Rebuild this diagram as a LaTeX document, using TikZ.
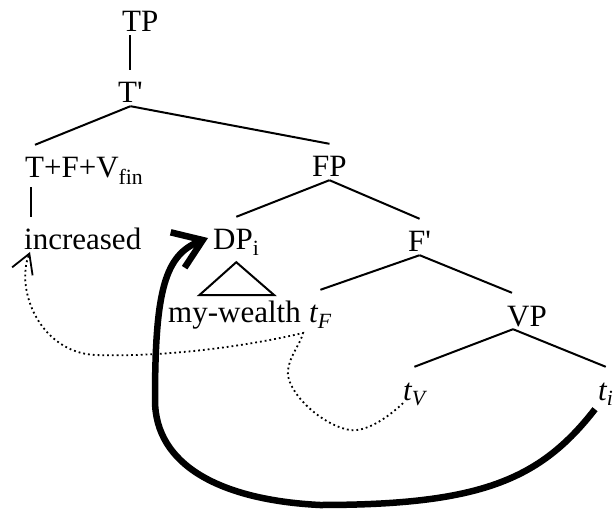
\documentclass[tikz,border=0pt]{standalone}
\usepackage{fontspec}
\setmainfont{Liberation Serif}
\usetikzlibrary{arrows.meta,calc}

\begin{document}
\begin{tikzpicture}[x=1pt,y=-1pt,
  word/.style={inner sep=0pt,anchor=base west,text height=33pt,text depth=3pt,font=\fontsize{31}{37}\selectfont},
  branch/.style={line width=2pt},
  headmove/.style={line width=1.8pt,dash pattern=on 1.8pt off 3pt,-{Straight Barb[length=19pt,width=22pt]}},
  dpmove/.style={line width=6.5pt,-{Straight Barb[length=27pt,width=38pt]}}]
\useasboundingbox (0,0) rectangle (615,510);

%labels
\node[word] (TP) at (122,32) {TP};
\node[word] (Tbar) at (118,103) {T\textquotesingle};
\node[word,text depth=9pt] (TFV) at (25,178) {T+F+V\textsubscript{fin}};
\node[word] (FP) at (312,177) {FP};
\node[word] (inc) at (24,250) {increased};
\node[word] (DP) at (213,250) {DP\textsubscript{i}};
\node[word] (Fbar) at (408,252) {F\textquotesingle};
\node[word] (my) at (168,323) {my-wealth};
\node[word] (tF) at ([xshift=8pt]my.base east) {\textit{t\textsubscript{F}}};
\node[word] (VP) at (507,326) {VP};
\node[word] (tV) at (403,400) {\textit{t\textsubscript{V}}};
\node[word] (ti) at (598,400) {\textit{t\textsubscript{i}}};

%branches
\draw[branch] (Tbar.north) -- (Tbar.north |- TP.south);
\draw[branch] (Tbar.south) -- ([xshift=10pt]TFV.north west);
\draw[branch] (Tbar.south) -- (FP.north);
\draw[branch] ([xshift=6pt]TFV.south west) -- ([xshift=7pt]inc.north west);
\draw[branch] (FP.south) -- (DP.north);
\draw[branch] (FP.south) -- (Fbar.north);
\draw[branch] (Fbar.south) -- (tF.north);
\draw[branch] (Fbar.south) -- ([xshift=-15pt]VP.north);
\draw[branch] ([xshift=-14pt]VP.south) -- (tV.north);
\draw[branch] ([xshift=-14pt]VP.south) -- (ti.north);
\draw[branch] ($(DP.south)+(0,9)$) -- ++(-37,33) -- ++(75,0) -- cycle;

%movement
\draw[headmove] (tV.south west) .. controls (385,420) and (365,432) .. (350,430)
  .. controls (320,425) and (285,390) .. (288,370)
  .. controls (290,355) and (300,345) .. (303,333)
  .. controls (230,350) and (150,357) .. (95,355)
  .. controls (40,352) and (15,290) .. ([shift={(6,2)}]inc.base west);
\draw[dpmove] ([shift={(-3,6)}]ti.south west) .. controls (540,480) and (480,505) .. (320,505)
  .. controls (220,500) and (155,465) .. (155,400)
  .. controls (155,290) and (165,255) .. ([shift={(-5,3)}]DP.west);
\end{tikzpicture}
\end{document}
